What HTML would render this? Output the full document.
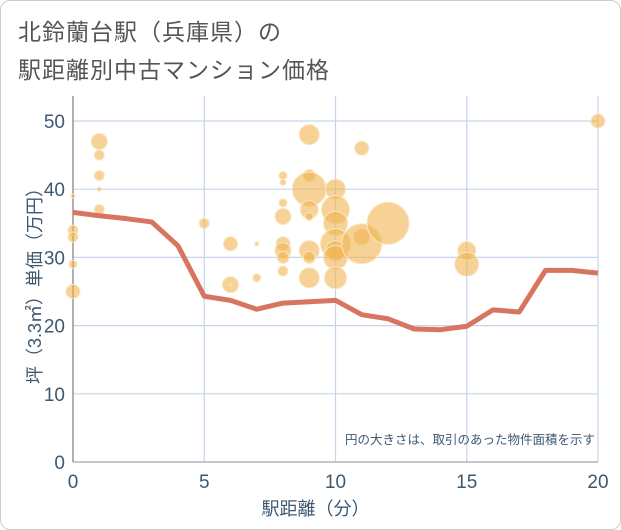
<!DOCTYPE html>
<html><head><meta charset="utf-8"><style>
body{margin:0;background:#fff;font-family:"Liberation Sans","Noto Sans CJK JP",sans-serif;}
#wrap{position:relative;width:619px;height:528px;border:1px solid #ccc;border-radius:10px;overflow:hidden;}
#title{position:absolute;left:17px;top:12px;font-size:23px;line-height:38px;color:#555;letter-spacing:1px;}
svg{position:absolute;left:0;top:0;}
</style></head><body>
<div id="wrap">
<div id="title">北鈴蘭台駅（兵庫県）の<br>駅距離別中古マンション価格</div>
<svg id="chart" width="621" height="530"></svg>
</div>
<script>
const bubbleX=[0,0,0,0,0,1,1,1,1,1,5,6,6,6,7,7,8,8,8,8,8,8,8,8,9,9,9,9,9,9,9,9,10,10,10,10,10,10,10,11,11,11,12,15,15,20];
const bubbleY=[39,34,33,29,25,47,45,42,40,37,35,32,26,26,32,27,42,41,38,36,32,31,30,28,48,42,40,37,36,31,30,27,40,37,35,32,31,30,27,46,33,32,35,31,29,50];
const bubbleR=[2,5,5,4,7,8,5,5,2,5,5,7,8,1,2,4,4,3,4,8,7,8,6,5,10,6,17,9,4,10,6,10,10,14,12,15,10,12,11,7,8,20,21,9,12,7];
const lineX=[0,1,2,3,4,5,6,7,8,9,10,11,12,13,14,15,16,17,18,19,20];
const lineY=[36.6,36.1,35.7,35.2,31.7,24.3,23.7,22.4,23.3,23.5,23.7,21.6,21.0,19.5,19.4,19.9,22.3,22.0,28.1,28.1,27.7];
const xTicks=[0,5,10,15,20];
const yTicks=[0,10,20,30,40,50];
const NS="http://www.w3.org/2000/svg";
const svg=document.getElementById('chart');
const L=72,R=597,T=120,B=461;
const sx=v=>L+(R-L)*v/20, sy=v=>B-(B-T)*v/50;
function mk(t,a){const e=document.createElementNS(NS,t);for(const k in a)e.setAttribute(k,a[k]);svg.appendChild(e);return e;}
yTicks.forEach(v=>{const g=mk('line',{x1:L,x2:R,y1:sy(v),y2:sy(v),stroke:'#c5d6ea','stroke-width':1.2});

const t=mk('text',{x:L-8,y:sy(v)+7,'text-anchor':'end','font-size':19,fill:'#3d5870'});t.textContent=v;
});
xTicks.forEach(v=>{const g=mk('line',{x1:sx(v),x2:sx(v),y1:T-25,y2:B,stroke:'#c5d6ea','stroke-width':1.2});

const t=mk('text',{x:sx(v),y:B+26,'text-anchor':'middle','font-size':19,fill:'#3d5870'});t.textContent=v;
});
const ax=mk('line',{x1:L,x2:L,y1:T-25,y2:B,stroke:'#999','stroke-width':1.5});

const bx=mk('line',{x1:L,x2:R,y1:B,y2:B,stroke:'#999','stroke-width':1});

bubbleX.forEach((x,i)=>{const c=mk('circle',{cx:sx(x),cy:sy(bubbleY[i]),r:bubbleR[i],fill:'rgba(240,180,80,0.6)',stroke:'#fbe6c0','stroke-width':1});
});
const p=mk('polyline',{points:lineX.map((x,i)=>sx(x)+','+sy(lineY[i])).join(' '),fill:'none',stroke:'#d87560','stroke-width':5,'stroke-linejoin':'round'});

const xt=mk('text',{x:(L+R)/2-20,y:514,'text-anchor':'middle','font-size':18,fill:'#3d5870'});xt.textContent='駅距離（分）';

const yt=mk('text',{x:0,y:0,'text-anchor':'middle','font-size':18,fill:'#3d5870',transform:'translate(40,'+((T+B)/2-10)+') rotate(-90)'});yt.textContent='坪（3.3㎡）単価（万円）';

const n=mk('text',{x:594,y:443,'text-anchor':'end','font-size':12.5,fill:'#3d5870'});n.textContent='円の大きさは、取引のあった物件面積を示す';

</script>
</body></html>
